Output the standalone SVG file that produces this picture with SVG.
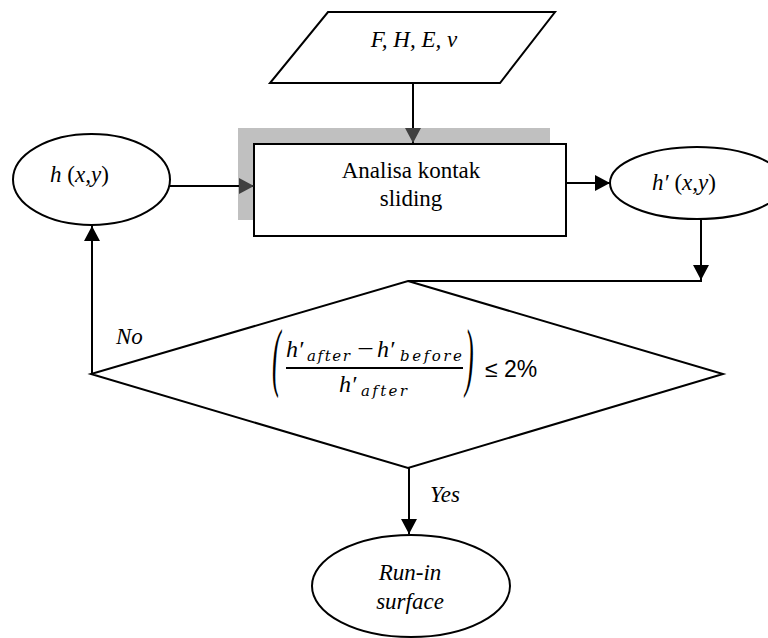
<svg xmlns="http://www.w3.org/2000/svg" width="768" height="638" viewBox="0 0 768 638">
<style>
.wf{fill:#fff;stroke:#000;stroke-width:2}
.cn{fill:none;stroke:#000;stroke-width:2}
.t{font-family:"Liberation Serif","Times New Roman",serif;font-size:23px;fill:#000}
.it{font-style:italic}
.m{font-family:"Liberation Serif","Times New Roman",serif;font-style:italic;fill:#000}
.sub{font-family:"DejaVu Serif","Liberation Serif",serif;font-style:italic;font-size:15px;fill:#000}
</style>
<defs>
<marker id="ab" viewBox="0 0 15 16" refX="15" refY="8" markerWidth="15" markerHeight="16" markerUnits="userSpaceOnUse" orient="auto">
<path d="M0,0 L15,8 L0,16 z" fill="#000"/>
</marker>
<marker id="ag" viewBox="0 0 15 16" refX="15" refY="8" markerWidth="15" markerHeight="16" markerUnits="userSpaceOnUse" orient="auto">
<path d="M0,0 L15,8 L0,16 z" fill="#404040"/>
</marker>
</defs>
<rect width="768" height="638" fill="#fff"/>

<g id="input">
<polygon class="wf" points="328,12 555,12 500,83 270,83"/>
<text class="t it" x="414" y="47" text-anchor="middle">F, H, E, ν</text>
</g>

<g id="process">
<rect x="238" y="128" width="312" height="92" fill="#c0c0c0"/>
<rect class="wf" x="254" y="144" width="312" height="92"/>
<text class="t" x="411" y="178" text-anchor="middle">Analisa kontak</text>
<text class="t" x="411" y="206" text-anchor="middle">sliding</text>
</g>

<g id="h">
<ellipse class="wf" cx="91.5" cy="179.5" rx="78.5" ry="45.5"/>
<text class="t" x="79.5" y="182" text-anchor="middle"><tspan class="it">h</tspan> (<tspan class="it">x,y</tspan>)</text>
</g>

<g id="hprime">
<ellipse class="wf" cx="697" cy="183" rx="87" ry="36"/>
<text class="t" x="684" y="190" text-anchor="middle"><tspan class="it">h′</tspan> (<tspan class="it">x,y</tspan>)</text>
</g>

<g id="decision">
<polygon class="wf" points="408,281 723,374 408,468 91,374"/>
<text class="m" font-size="26" transform="translate(272,382) scale(1,2.9)" font-style="normal">(</text>
<text class="m" font-size="26" transform="translate(465,382) scale(1,2.9)" font-style="normal">)</text>
<text class="m" font-size="24" x="286" y="357">h′</text>
<text class="sub" x="307" y="361" textLength="43" lengthAdjust="spacing">after</text>
<text class="m" font-size="22" font-style="normal" x="355" y="356" textLength="20" lengthAdjust="spacingAndGlyphs">−</text>
<text class="m" font-size="24" x="377" y="357">h′</text>
<text class="sub" x="400" y="361" textLength="62" lengthAdjust="spacing">before</text>
<line x1="286" y1="368" x2="463" y2="368" stroke="#000" stroke-width="2"/>
<text class="m" font-size="24" x="339" y="392">h′</text>
<text class="sub" x="361" y="396" textLength="46" lengthAdjust="spacing">after</text>
<text x="485" y="377" font-family="Liberation Sans, Arial, sans-serif" font-size="23">≤ 2%</text>
</g>

<g id="runin">
<ellipse class="wf" cx="411" cy="586" rx="99" ry="51"/>
<text class="t it" x="410" y="580" text-anchor="middle">Run-in</text>
<text class="t it" x="410" y="609" text-anchor="middle">surface</text>
</g>

<g id="connectors">
<line class="cn" x1="413" y1="83" x2="413" y2="143" marker-end="url(#ag)"/>
<line class="cn" x1="170" y1="186" x2="254" y2="186" marker-end="url(#ag)"/>
<line class="cn" x1="566" y1="183" x2="610" y2="183" marker-end="url(#ab)"/>
<line class="cn" x1="701" y1="219" x2="701" y2="280" marker-end="url(#ab)"/>
<line class="cn" x1="702" y1="281" x2="408" y2="281"/>
<line class="cn" x1="92" y1="374" x2="92" y2="226" marker-end="url(#ab)"/>
<line class="cn" x1="409" y1="468" x2="409" y2="534" marker-end="url(#ab)"/>
<text class="t it" x="116" y="344" font-size="22">No</text>
<text class="t it" x="430" y="502" font-size="22">Yes</text>
</g>
</svg>
